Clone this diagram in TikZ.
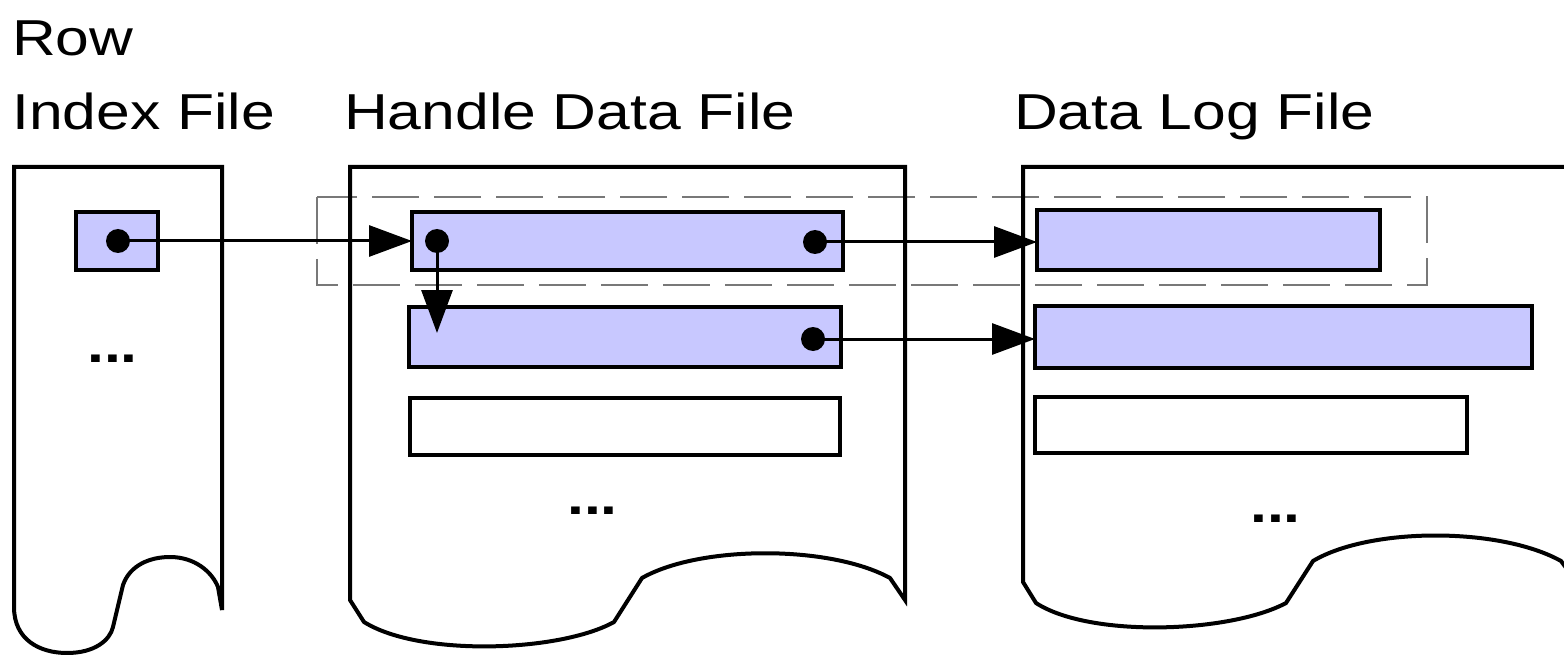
\documentclass[tikz,border=0pt]{standalone}
\usepackage{fontspec}
\setmainfont{Liberation Sans}[FakeStretch=1.2]
\usetikzlibrary{arrows.meta}
\definecolor{cellblue}{RGB}{200,200,255}
\definecolor{groupgray}{RGB}{120,120,120}
\begin{document}
\begin{tikzpicture}[x=1pt,y=-1pt,
  doc/.style={draw=black, line width=4pt, line join=miter},
  cell/.style={draw=black, line width=3.5pt, rectangle, inner sep=0pt,
    outer sep=0pt, anchor=north west},
  used/.style={cell, fill=cellblue},
  free/.style={cell, fill=white},
  ptr/.style={circle, fill=black, minimum size=24pt, inner sep=0pt},
  link/.style={line width=3pt, -{Triangle[length=43pt,width=31pt]}},
  title/.style={font=\fontsize{50.5}{60}\selectfont, inner sep=0pt, anchor=base west},
  more/.style={font=\fontsize{50.5}{60}\selectfont\bfseries, inner sep=0pt, anchor=base west},
  group/.style={draw=groupgray, line width=1.5pt, dash pattern=on 47pt off 15pt}]
\useasboundingbox (0,0) rectangle (1564,655);
\clip (0,0) rectangle (1564,655);

% file titles
\node[title] (trow) at (12,56) {Row};
\node[title] (tidx) at (12,130) {Index File};
\node[title] (thdf) at (344,130) {Handle Data File};
\node[title] (tlog) at (1014,130) {Data Log File};

% grouping frame around one handle and its log record
\draw[group] (317,197) rectangle (1427,285);

% row index file
\draw[doc] (14,167) -- (14,607)
  .. controls (14,640) and (40,653) .. (67,653)
  .. controls (95,653) and (110,640) .. (113,627)
  -- (123,585)
  .. controls (130,565) and (150,557) .. (170,557)
  .. controls (195,557) and (212,572) .. (218,587)
  -- (222,610) -- (222,167) -- cycle;

% handle data file
\draw[doc] (350,167) -- (350,600) -- (364,622)
  .. controls (420,657) and (560,652) .. (614,622)
  -- (642,578)
  .. controls (700,545) and (830,545) .. (890,578)
  -- (905,600) -- (905,167) -- cycle;

% data log file (runs past the right edge)
\draw[doc] (1023,167) -- (1023,582) -- (1036,603)
  .. controls (1090,638) and (1230,633) .. (1286,603)
  -- (1313,561)
  .. controls (1370,527) and (1500,527) .. (1561,561)
  -- (1578,584) -- (1578,167) -- cycle;

% records
\node[used, minimum width=82pt, minimum height=58pt] (a1) at (76,212) {};
\node[used, minimum width=431pt, minimum height=58pt] (b1) at (412,212) {};
\node[used, minimum width=432pt, minimum height=60pt] (b2) at (409,307) {};
\node[free, minimum width=430pt, minimum height=57pt] (b3) at (410,398) {};
\node[used, minimum width=343pt, minimum height=60pt] (c1) at (1037,210) {};
\node[used, minimum width=497pt, minimum height=62pt] (c2) at (1035,306) {};
\node[free, minimum width=432pt, minimum height=56pt] (c3) at (1035,397) {};

% continuation marks
\node[more] (m1) at (87,362) {...};
\node[more] (m2) at (567,514) {...};
\node[more] (m3) at (1250,522) {...};

% pointers
\node[ptr] (pa) at (118,241) {};
\node[ptr] (pb) at (437,241) {};
\node[ptr] (pc) at (815,242) {};
\node[ptr] (pd) at (813,339) {};
\coordinate (tb) at (437,333);

\draw[link] (pa.center) -- (b1.west |- pa.center);
\draw[link] (pb.center) -- (tb);
\draw[link] (pc.center) -- (c1.west |- pc.center);
\draw[link] (pd.center) -- (c2.west |- pd.center);
\end{tikzpicture}
\end{document}
